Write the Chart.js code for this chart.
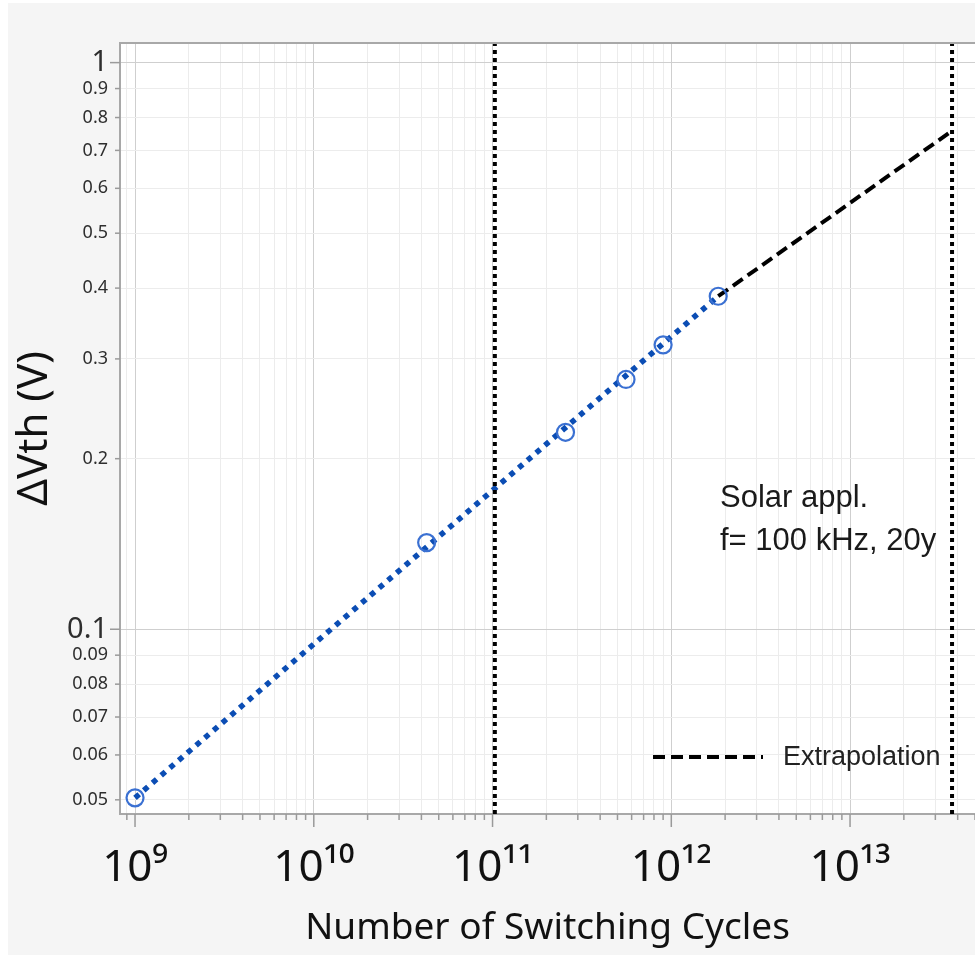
<!DOCTYPE html>
<html>
<head>
<meta charset="utf-8">
<script src="https://cdn.jsdelivr.net/npm/chart.js@4"></script>
<style>
  html, body { margin: 0; background: #fff; overflow: hidden; }
  canvas { display: block; }
</style>
</head>
<body>
<canvas id="grafico" width="975" height="955"></canvas>
<script>
// measured points (switching cycles vs dVth)
const cycles = [1e9, 4.28e10, 2.56e11, 5.58e11, 9.0e11, 1.83e12];
const dVth = [0.0504, 0.1422, 0.2226, 0.276, 0.3176, 0.387];

// power-law fit drawn through the data range
const fitX = [1e9, 1.83e12];
const fitY = [0.0504, 0.387];

// extrapolation to the end of life
const extrapX = [1.83e12, 3.72e13];
const extrapY = [0.387, 0.758];

// vertical dotted markers
const markerX = [1.03e11, 3.72e13];

// axis ranges and ticks
const xMin = 8.24e8, xMax = 5e13;
const yMin = 0.0472, yMax = 1.083;
const xDecades = [1e8, 1e9, 1e10, 1e11, 1e12, 1e13];
const xMantissas = [1, 2, 3, 4, 5, 6, 7, 8, 9];
const yTicks = [0.05, 0.06, 0.07, 0.08, 0.09, 0.1, 0.2, 0.3, 0.4, 0.5, 0.6, 0.7, 0.8, 0.9, 1];

const annotationLines = ['Solar appl.', 'f= 100 kHz, 20y'];
const legendLabel = 'Extrapolation';

const sup = { '0': '⁰', '1': '¹', '2': '²', '3': '³', '4': '⁴', '5': '⁵', '6': '⁶', '7': '⁷', '8': '⁸', '9': '⁹' };

function isDecade(v) {
    let l = Math.log10(v);
    return Math.abs(l - Math.round(l)) < 1e-9;
}

let xTicks = [];
xDecades.forEach(d => {
    xMantissas.forEach(m => {
        let v = d * m;
        if (v >= xMin && v <= xMax) xTicks.push(v);
    });
});

function toPoints(xs, ys) {
    return xs.map((x, i) => ({ x: x, y: ys[i] }));
}

const fundo = {
    id: 'fundo',
    beforeDraw(chart) {
        let ctx = chart.ctx, a = chart.chartArea;
        ctx.save();
        ctx.fillStyle = '#f5f5f5';
        ctx.fillRect(8, 3, chart.width, chart.height);
        ctx.fillStyle = '#ffffff';
        ctx.fillRect(a.left, a.top, a.right - a.left, a.bottom - a.top);
        ctx.restore();
    },
    afterDraw(chart) {
        let ctx = chart.ctx, a = chart.chartArea;
        let x = chart.scales.x, y = chart.scales.y;
        ctx.save();
        // top border
        ctx.strokeStyle = '#a8a8a8';
        ctx.lineWidth = 2;
        ctx.beginPath();
        ctx.moveTo(a.left, a.top);
        ctx.lineTo(a.right, a.top);
        ctx.stroke();
        // tick marks
        ctx.strokeStyle = '#9a9a9a';
        ctx.lineWidth = 1.5;
        x.ticks.forEach(t => {
            let px = x.getPixelForValue(t.value);
            let len = isDecade(t.value) ? 13 : 6;
            ctx.beginPath();
            ctx.moveTo(px, a.bottom);
            ctx.lineTo(px, a.bottom + len);
            ctx.stroke();
        });
        y.ticks.forEach(t => {
            let py = y.getPixelForValue(t.value);
            let len = isDecade(t.value) ? 10 : 5;
            ctx.beginPath();
            ctx.moveTo(a.left - len, py);
            ctx.lineTo(a.left, py);
            ctx.stroke();
        });
        // annotation
        ctx.fillStyle = '#1a1a1a';
        ctx.font = '31px "Liberation Sans", Arial, sans-serif';
        ctx.textAlign = 'left';
        ctx.textBaseline = 'alphabetic';
        ctx.fillText(annotationLines[0], a.left + 600, a.top + 464);
        ctx.fillText(annotationLines[1], a.left + 600, a.top + 507);
        // legend entry for extrapolation
        let ds = chart.data.datasets[3];
        ctx.strokeStyle = ds.borderColor;
        ctx.lineWidth = ds.borderWidth;
        ctx.setLineDash(ds.borderDash);
        ctx.beginPath();
        ctx.moveTo(a.right - 322, a.bottom - 57);
        ctx.lineTo(a.right - 212, a.bottom - 57);
        ctx.stroke();
        ctx.setLineDash([]);
        ctx.fillStyle = '#222';
        ctx.font = '27px "Liberation Sans", Arial, sans-serif';
        ctx.textBaseline = 'middle';
        ctx.fillText(legendLabel, a.right - 192, a.bottom - 56);
        ctx.restore();
    }
};

var ctx = document.getElementById('grafico').getContext('2d');
var grafico = new Chart(ctx, {
    type: 'scatter',
    data: {
        datasets: [
            {
                label: 'Measured',
                data: toPoints(cycles, dVth),
                showLine: false,
                pointStyle: 'circle',
                pointRadius: 8.5,
                pointBorderWidth: 2.2,
                pointBorderColor: '#3a70d2',
                pointBackgroundColor: 'rgba(0,0,0,0)'
            },
            {
                label: 'Marker 1',
                data: [{ x: markerX[0], y: yMin }, { x: markerX[0], y: yMax }],
                showLine: true,
                borderColor: '#000',
                borderWidth: 4,
                borderDash: [4, 4],
                pointRadius: 0
            },
            {
                label: 'Marker 2',
                data: [{ x: markerX[1], y: yMin }, { x: markerX[1], y: yMax }],
                showLine: true,
                borderColor: '#000',
                borderWidth: 4,
                borderDash: [4, 4],
                pointRadius: 0
            },
            {
                label: legendLabel,
                data: toPoints(extrapX, extrapY),
                showLine: true,
                borderColor: '#000',
                borderWidth: 4,
                borderDash: [12, 6],
                pointRadius: 0
            },
            {
                label: 'Fit',
                data: toPoints(fitX, fitY),
                showLine: true,
                borderColor: '#0b4db4',
                borderWidth: 5.5,
                borderDash: [5.5, 6],
                pointRadius: 0
            }
        ]
    },
    options: {
        responsive: false,
        animation: false,
        layout: { autoPadding: false, padding: { top: 43, left: 0, right: 0, bottom: 0 } },
        plugins: {
            legend: { display: false },
            tooltip: { enabled: false }
        },
        scales: {
            x: {
                type: 'logarithmic',
                min: xMin,
                max: xMax,
                afterBuildTicks: s => { s.ticks = xTicks.map(v => ({ value: v })); },
                afterFit: s => { s.height = 141; s.paddingRight = 0; s.paddingLeft = 0; },
                border: { color: '#a8a8a8', width: 2 },
                grid: {
                    drawTicks: false,
                    color: c => isDecade(c.tick.value) ? '#cfcfcf' : '#ececec',
                    lineWidth: 1
                },
                ticks: {
                    autoSkip: false,
                    maxRotation: 0,
                    minRotation: 0,
                    padding: 28,
                    color: '#111',
                    font: { family: '"Noto Sans", sans-serif', size: 44 },
                    callback: v => {
                        if (!isDecade(v)) return '';
                        let e = String(Math.round(Math.log10(v)));
                        return '10' + e.split('').map(c => sup[c]).join('');
                    }
                },
                title: {
                    display: true,
                    text: 'Number of Switching Cycles',
                    color: '#111',
                    font: { family: '"Noto Sans", sans-serif', size: 37 },
                    padding: { top: 0, bottom: 4 }
                }
            },
            y: {
                type: 'logarithmic',
                min: yMin,
                max: yMax,
                afterBuildTicks: s => { s.ticks = yTicks.map(v => ({ value: v })); },
                afterFit: s => { s.width = 120; s.paddingTop = 0; s.paddingBottom = 0; },
                border: { color: '#a8a8a8', width: 2 },
                grid: {
                    drawTicks: false,
                    color: c => isDecade(c.tick.value) ? '#cfcfcf' : '#ececec',
                    lineWidth: 1
                },
                ticks: {
                    autoSkip: false,
                    padding: 12,
                    color: '#2e2e2e',
                    font: c => isDecade(c.tick.value)
                        ? { family: '"Noto Sans", sans-serif', size: 29 }
                        : { family: '"Noto Sans", sans-serif', size: 18 },
                    callback: v => String(v)
                },
                title: {
                    display: true,
                    text: 'ΔVth (V)',
                    color: '#111',
                    font: { family: '"Noto Sans", sans-serif', size: 42 },
                    padding: { top: 10, bottom: 0 }
                }
            }
        }
    },
    plugins: [fundo]
});
</script>
</body>
</html>
